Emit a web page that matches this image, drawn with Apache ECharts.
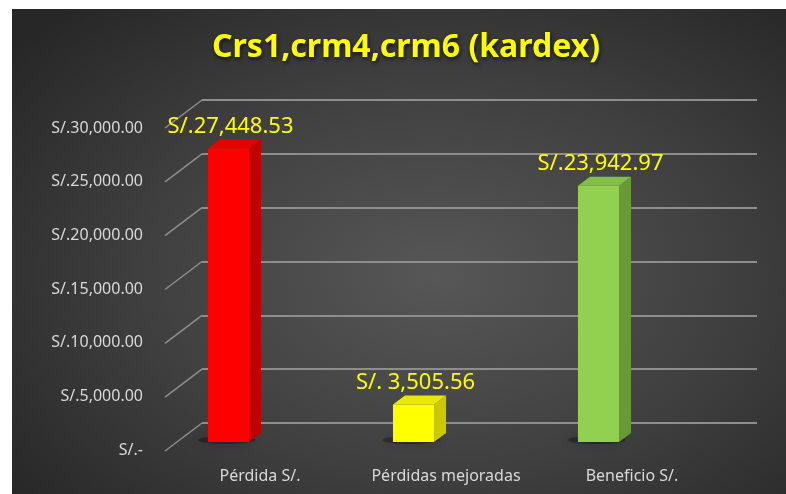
<!DOCTYPE html>
<html>
<head>
<meta charset="utf-8">
<script src="https://cdn.jsdelivr.net/npm/echarts@6/dist/echarts.min.js"></script>
<style>
html, body { margin: 0; padding: 0; background: #fff; }
#wrap { position: relative; width: 786px; height: 494px; }
#panel { position: absolute; left: 12px; top: 9px; right: 0; bottom: 0;
  background: radial-gradient(ellipse 70% 75% at 55% 55%, #575757 0%, #3f3f3f 55%, #272727 100%); }
#main { position: absolute; left: 0; top: 0; width: 786px; height: 494px; }
</style>
</head>
<body>
<div id="wrap"><div id="panel"></div><div id="main"></div></div>
<script>
var categories = ['Pérdida S/.', 'Pérdidas mejoradas', 'Beneficio S/.'];
var values = [27448.53, 3505.56, 23942.97];
var tickValues = [0, 5000, 10000, 15000, 20000, 25000, 30000];
var barColors = [
    { front: '#ff0000', side: '#c00000', top: '#e60000' },
    { front: '#ffff00', side: '#c9c900', top: '#e8e800' },
    { front: '#92d050', side: '#679b38', top: '#82be48' }
];

// depth of a bar and of the whole floor (3d look)
var barDx = 12, barDy = -9;
var wallDx = -37, wallDy = 28;

function money(v) {
    var s = v.toLocaleString('en-US', { minimumFractionDigits: 2, maximumFractionDigits: 2 });
    while (s.length < 9) s = ' ' + s;
    return 'S/.' + s;
}

var font = '"Noto Sans", sans-serif';
var chart = echarts.init(document.getElementById('main'));

var option = {
    backgroundColor: 'transparent',
    animation: false,
    title: {
        text: 'Crs1,crm4,crm6 (kardex)',
        left: 401,
        top: 27,
        textAlign: 'center',
        textStyle: {
            color: '#ffff00', fontSize: 32, fontWeight: 'bold', fontFamily: font,
            textShadowColor: 'rgba(0,0,0,0.7)', textShadowBlur: 4, textShadowOffsetX: 1, textShadowOffsetY: 2
        }
    },
    grid: [
        // back wall
        { left: 202, right: 29, top: 100, bottom: 71 },
        // front edge (labels)
        { left: 167, right: 61, top: 128, bottom: 44 },
        // plane of the bars
        { left: 136, right: 95, top: 121, bottom: 52 }
    ],
    xAxis: [
        { gridIndex: 0, type: 'category', data: categories, show: false },
        {
            gridIndex: 1, type: 'category', data: categories,
            axisLine: { show: false }, axisTick: { show: false },
            axisLabel: { interval: 0, color: '#d9d9d9', fontSize: 16, fontFamily: font, margin: 18 }
        },
        { gridIndex: 2, type: 'category', data: categories, show: false }
    ],
    yAxis: [
        {
            gridIndex: 0, type: 'value', min: 0, max: 30000, interval: 5000,
            axisLabel: { show: false }, axisLine: { show: false }, axisTick: { show: false },
            splitLine: { lineStyle: { color: '#8e8e8e', width: 2 } }
        },
        {
            gridIndex: 1, type: 'value', min: 0, max: 30000, interval: 5000,
            axisLine: { show: false }, axisTick: { show: false }, splitLine: { show: false },
            axisLabel: {
                color: '#d9d9d9', fontSize: 16, fontFamily: font, margin: 24,
                formatter: function (v) {
                    if (v === 0) return 'S/.-';
                    return 'S/.' + v.toLocaleString('en-US', { minimumFractionDigits: 2 });
                }
            }
        },
        { gridIndex: 2, type: 'value', min: 0, max: 30000, interval: 5000, show: false }
    ],
    series: [
        {
            // diagonal floor/side lines from back wall to front
            type: 'custom',
            xAxisIndex: 0, yAxisIndex: 0,
            data: tickValues.map(function (v) { return [0, v]; }),
            encode: { x: 0, y: 1 },
            renderItem: function (params, api) {
                var p = api.coord([0, api.value(1)]);
                var x = params.coordSys.x;
                return {
                    type: 'line',
                    shape: { x1: x, y1: p[1], x2: x + wallDx, y2: p[1] + wallDy },
                    style: { stroke: '#8e8e8e', lineWidth: 1.5 }
                };
            }
        },
        {
            type: 'custom',
            xAxisIndex: 2, yAxisIndex: 2,
            data: values.map(function (v, i) { return [i, v]; }),
            encode: { x: 0, y: 1 },
            renderItem: function (params, api) {
                var i = api.value(0);
                var v = api.value(1);
                var top = api.coord([i, v]);
                var base = api.coord([i, 0]);
                var w = api.size([1, 0])[0] * 0.222;
                var x0 = top[0] - w / 2, x1 = top[0] + w / 2;
                var c = barColors[i];
                return {
                    type: 'group',
                    children: [
                        {
                            type: 'ellipse',
                            shape: { cx: x0 + w * 0.45, cy: base[1] - 2, rx: w * 0.7, ry: 4 },
                            style: { fill: 'rgba(0,0,0,0.3)', shadowBlur: 10, shadowColor: 'rgba(0,0,0,0.6)' }
                        },
                        {
                            type: 'polygon',
                            shape: { points: [[x1, base[1]], [x1 + barDx, base[1] + barDy], [x1 + barDx, top[1] + barDy], [x1, top[1]]] },
                            style: { fill: c.side }
                        },
                        {
                            type: 'polygon',
                            shape: { points: [[x0, top[1]], [x1, top[1]], [x1 + barDx, top[1] + barDy], [x0 + barDx, top[1] + barDy]] },
                            style: { fill: c.top }
                        },
                        {
                            type: 'rect',
                            shape: { x: x0, y: top[1], width: w, height: base[1] - top[1] },
                            style: { fill: c.front }
                        },
                        {
                            type: 'text',
                            x: top[0] + 2,
                            y: top[1] + barDy - 2,
                            style: {
                                text: money(v), fill: '#ffff00', font: '22px ' + font,
                                align: 'center', verticalAlign: 'bottom'
                            }
                        }
                    ]
                };
            }
        }
    ]
};

chart.setOption(option);
</script>
</body>
</html>
